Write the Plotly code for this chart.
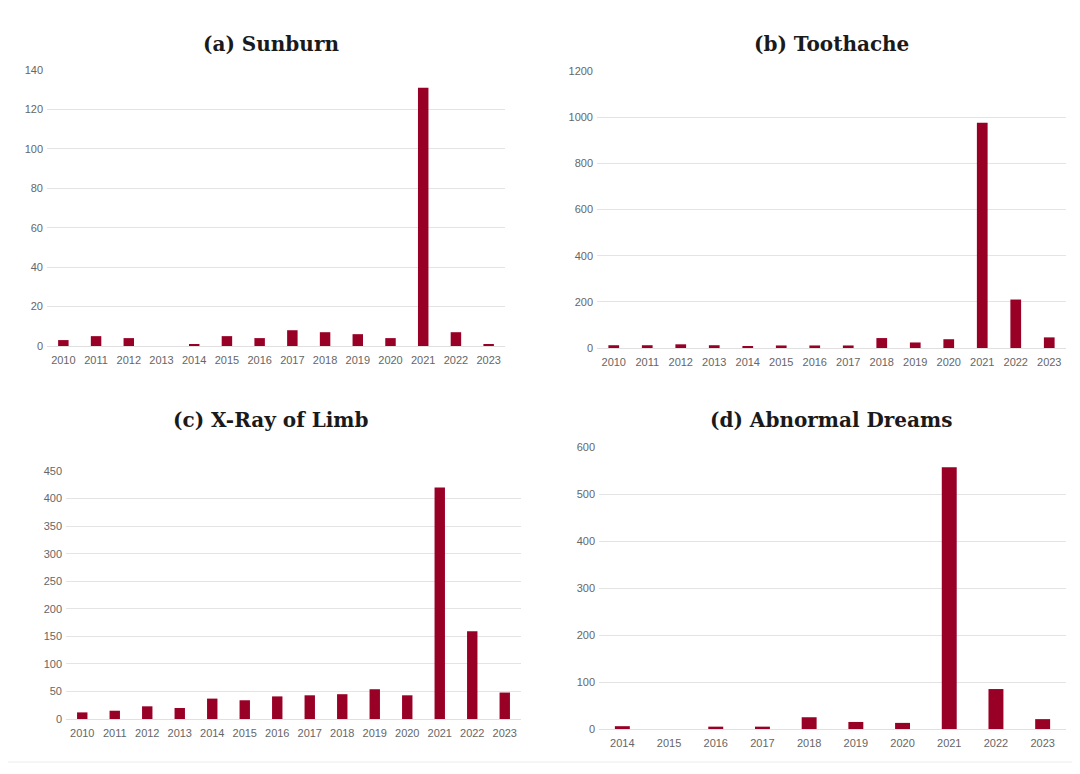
import plotly.graph_objects as go

years_full = ["2010", "2011", "2012", "2013", "2014", "2015", "2016",
              "2017", "2018", "2019", "2020", "2021", "2022", "2023"]
years_dreams = ["2014", "2015", "2016", "2017", "2018", "2019", "2020",
                "2021", "2022", "2023"]

sunburn = [3, 5, 4, 0, 1, 5, 4, 8, 7, 6, 4, 131, 7, 1]
toothache = [12, 12, 16, 12, 8, 11, 11, 11, 43, 24, 38, 976, 210, 46]
xray_limb = [12, 15, 23, 20, 37, 34, 41, 43, 45, 54, 43, 420, 159, 48]
abnormal_dreams = [6, 0, 5, 5, 25, 15, 13, 557, 85, 21]

titles = ["(a) Sunburn", "(b) Toothache", "(c) X-Ray of Limb", "(d) Abnormal Dreams"]
y_max = [140, 1200, 450, 600]
y_step = [20, 200, 50, 100]

# page has an 8px body margin; figure is sized so that it fits the window
OFF = 8
W, H = 1080 - 2 * OFF, 774 - 2 * OFF
BAR = "#990026"

# plot areas in window pixels: (left, right, top, bottom)
areas = [(47, 505, 70, 346), (597, 1066, 71, 348),
         (66, 521, 471, 719), (599, 1066, 447, 729)]
title_pos = [(271, 44), (831, 44), (271, 420), (831, 420)]

series = [(years_full, sunburn), (years_full, toothache),
          (years_full, xray_limb), (years_dreams, abnormal_dreams)]


def px_x(v):
    return (v - OFF) / W


def px_y(v):
    return 1 - (v - OFF) / H


fig = go.Figure()
layout = dict(width=W, height=H, margin=dict(l=0, r=0, t=0, b=0, pad=0),
              paper_bgcolor="white", plot_bgcolor="white", showlegend=False,
              bargap=0.68, template="none")
annotations = []
tfont = dict(family="Liberation Sans, Arial", size=11, color="#666666")
for i, ((cats, vals), (l, r, t, b)) in enumerate(zip(series, areas)):
    n = "" if i == 0 else str(i + 1)
    fig.add_trace(go.Bar(x=cats, y=vals, marker=dict(color=BAR, line=dict(width=0)),
                         xaxis="x" + n, yaxis="y" + n))
    layout["xaxis" + n] = dict(domain=[px_x(l), px_x(r)], anchor="y" + n, type="category",
                               showgrid=False, showline=False, ticks="", automargin=False,
                               ticklabelstandoff=6, tickfont=tfont, fixedrange=True)
    layout["yaxis" + n] = dict(domain=[px_y(b), px_y(t)], anchor="x" + n,
                               range=[0, y_max[i]], dtick=y_step[i], tick0=0,
                               showgrid=True, gridcolor="#e4e4e4", gridwidth=1,
                               zeroline=True, zerolinecolor="#e0e0e0", zerolinewidth=1,
                               showline=False, ticks="", automargin=False,
                               ticklabelstandoff=3, tickfont=tfont, fixedrange=True)
    tx, ty = title_pos[i]
    annotations.append(dict(text="<b>" + titles[i] + "</b>", x=px_x(tx), y=px_y(ty),
                            xref="paper", yref="paper", xanchor="center", yanchor="middle",
                            showarrow=False,
                            font=dict(family="DejaVu Serif", size=20, color="#1a1a1a")))
layout["annotations"] = annotations
layout["shapes"] = [dict(type="line", xref="paper", yref="paper", x0=0, x1=1,
                         y0=px_y(762), y1=px_y(762),
                         line=dict(color="#ececec", width=1))]
fig.update_layout(**layout)
fig.write_html("out.html")
